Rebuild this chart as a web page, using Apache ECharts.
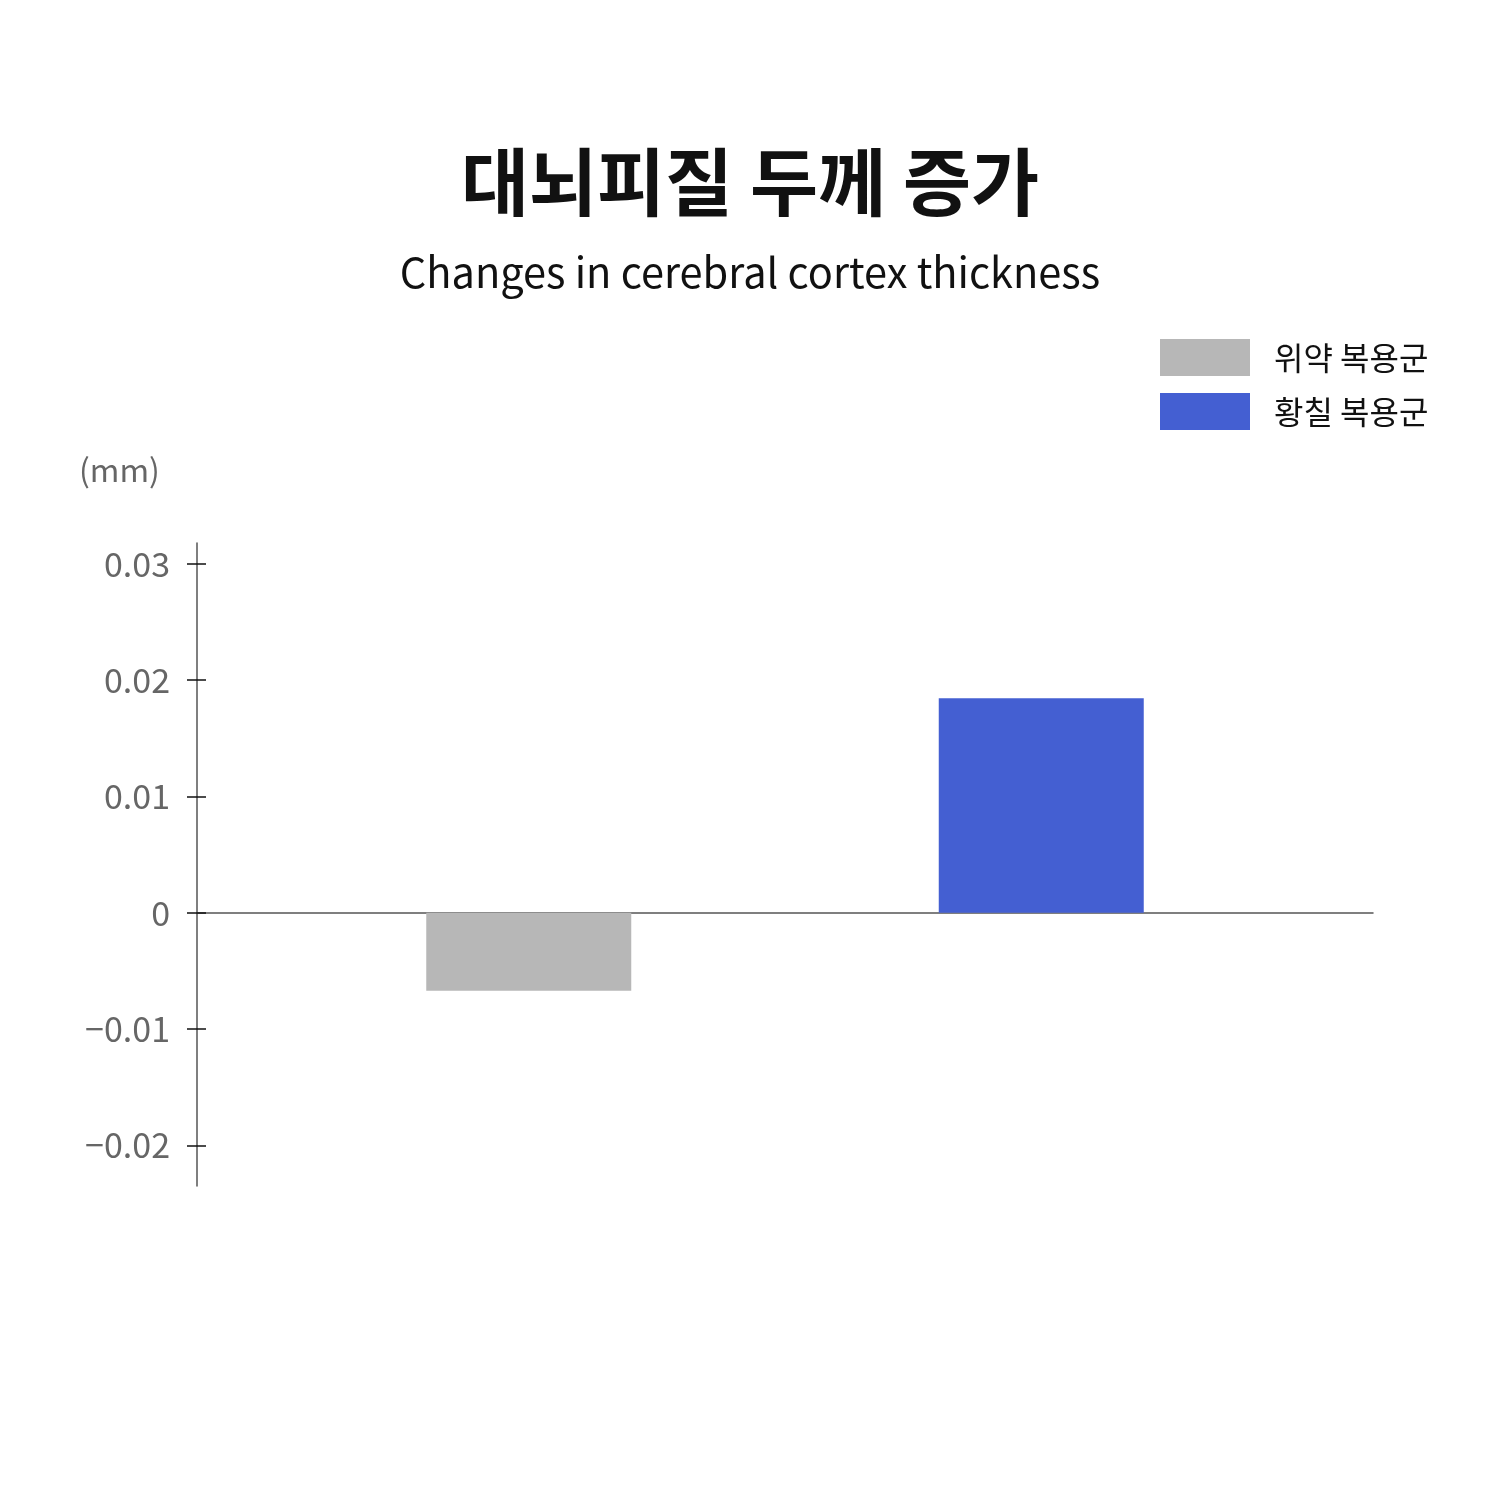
<!DOCTYPE html>
<html><head><meta charset="utf-8">
<script src="https://cdn.jsdelivr.net/npm/echarts@6/dist/echarts.min.js"></script>
<style>html,body{margin:0;padding:0;background:#fff}#c{width:1500px;height:1500px}</style>
</head><body><div id="c"></div>
<script>
const categories = ['대뇌피질 두께'];
const seriesNames = ['위약 복용군', '황칠 복용군'];
const placeboValues = [-0.0067];
const hwangchilValues = [0.01845];
const tickValues = [-0.02, -0.01, 0, 0.01, 0.02, 0.03];

const FONT = '"Noto Sans CJK KR", "Noto Sans", sans-serif';
const chart = echarts.init(document.getElementById('c'));
const yBase = {
  type: 'value', min: -0.0235, max: 0.0318, position: 'left',
  splitLine: { show: false }
};
chart.setOption({
  backgroundColor: '#fff',
  title: [
    { text: '대뇌피질 두께 증가', left: 'center', top: 140,
      textStyle: { fontFamily: FONT, fontSize: 74, fontWeight: 'bold', color: '#111' } },
    { text: 'Changes in cerebral cortex thickness', left: 'center', top: 246,
      textStyle: { fontFamily: FONT, fontSize: 41.5, fontWeight: 'normal', color: '#111' } }
  ],
  legend: {
    orient: 'vertical', left: 1160, top: 339, padding: 0, itemWidth: 90, itemHeight: 37, itemGap: 17,
    icon: 'rect',
    textStyle: { fontFamily: FONT, fontSize: 32, color: '#111', padding: [0, 0, 0, 19] },
    data: seriesNames
  },
  graphic: [
    { type: 'text', left: 79, top: 454, style: { text: '(mm)', font: '32px ' + FONT, fill: '#666' } }
  ],
  grid: { left: 197, right: 127, top: 543, bottom: 314, containLabel: false },
  xAxis: {
    type: 'category', data: categories,
    axisLine: { onZero: true, lineStyle: { color: '#555', width: 1.5 } },
    axisTick: { show: false }, axisLabel: { show: false }
  },
  yAxis: [
    Object.assign({}, yBase, {
      axisLine: { show: true, lineStyle: { color: '#555', width: 1.5 } },
      axisTick: { show: true, inside: false, length: 10, customValues: tickValues, lineStyle: { color: '#111', width: 1.5 } },
      axisLabel: { show: true, customValues: tickValues, margin: 27, fontFamily: FONT, fontSize: 34, color: '#666',
        formatter: v => String(Math.round(v * 100) / 100).replace('-', '\u2212') }
    }),
    Object.assign({}, yBase, {
      axisLine: { show: false },
      axisTick: { show: true, inside: true, length: 9, customValues: tickValues, lineStyle: { color: '#111', width: 1.5 } },
      axisLabel: { show: false }
    })
  ],
  series: [
    { name: seriesNames[0], type: 'bar', data: placeboValues, barWidth: 205, barGap: '150%',
      itemStyle: { color: '#b7b7b7' } },
    { name: seriesNames[1], type: 'bar', data: hwangchilValues, barWidth: 205, barGap: '150%',
      itemStyle: { color: '#445fd2' } }
  ]
});
</script></body></html>
